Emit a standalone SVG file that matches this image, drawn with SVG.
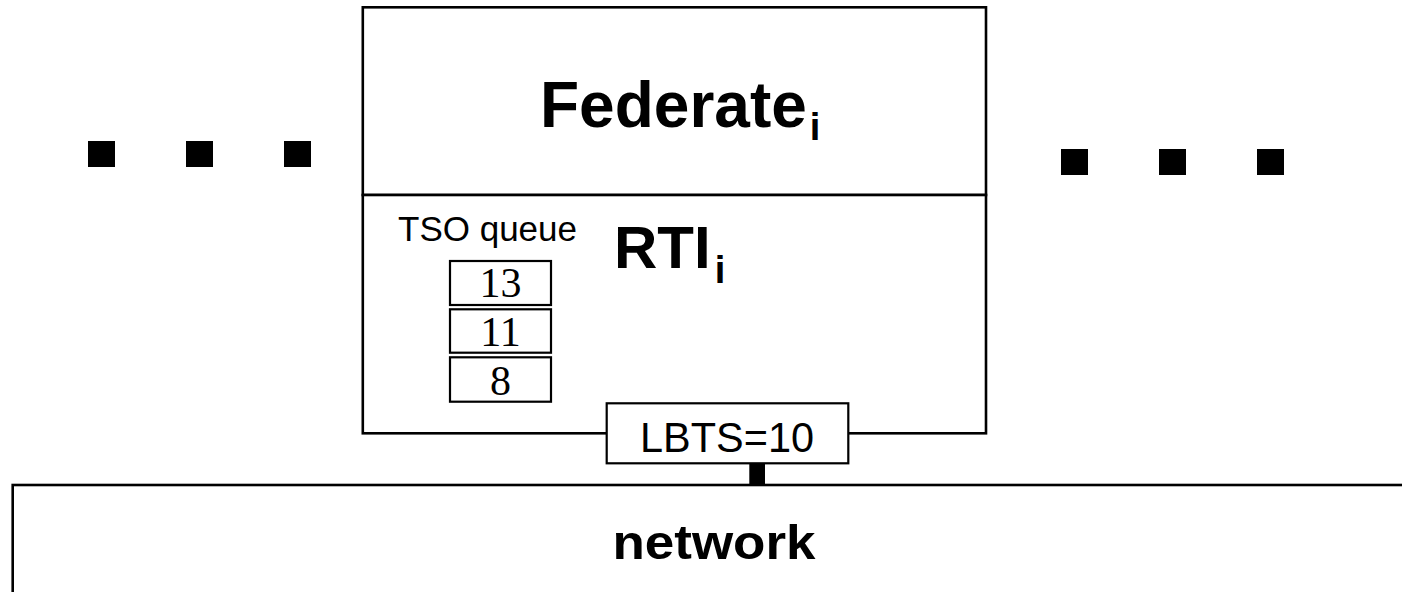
<svg xmlns="http://www.w3.org/2000/svg" width="1402" height="592" viewBox="0 0 1402 592">
  <style>
    .frame { fill: #fff; stroke: #000; stroke-width: 2.6; }
    .cell { fill: #fff; stroke: #000; stroke-width: 2.2; }
    .dot { fill: #000; }
    .sans { font-family: "Liberation Sans", Arial, sans-serif; fill: #000; }
    .bold { font-weight: bold; }
    .serif { font-family: "Liberation Serif", "Times New Roman", serif; fill: #000; font-size: 42px; text-anchor: middle; }
  </style>

  <rect width="1402" height="592" fill="#fff"/>

  <!-- ellipsis dots on either side of the federate -->
  <g id="dots-left">
    <rect class="dot" x="88" y="141" width="27" height="26"/>
    <rect class="dot" x="186" y="141" width="27" height="26"/>
    <rect class="dot" x="284" y="141" width="27" height="26"/>
  </g>
  <g id="dots-right">
    <rect class="dot" x="1061" y="149" width="27" height="26"/>
    <rect class="dot" x="1159" y="149" width="27" height="26"/>
    <rect class="dot" x="1257" y="149" width="27" height="26"/>
  </g>

  <!-- network bus -->
  <g id="network">
    <rect class="frame" x="12.7" y="485" width="1400" height="200"/>
    <text class="sans bold" x="714" y="559" font-size="48" text-anchor="middle" textLength="203" lengthAdjust="spacingAndGlyphs">network</text>
  </g>

  <!-- federate with its RTI component -->
  <g id="federate">
    <rect class="frame" x="362.8" y="7.3" width="623.2" height="187.7"/>
    <text class="sans bold" x="540" y="127" font-size="64">Federate<tspan font-size="38" dx="3" dy="13">i</tspan></text>
  </g>

  <g id="rti">
    <rect class="frame" x="362.8" y="195" width="623.2" height="238.3"/>
    <text class="sans bold" x="614" y="268" font-size="60">RTI<tspan font-size="38" dx="4" dy="15">i</tspan></text>
    <text class="sans" x="398" y="240.5" font-size="35">TSO queue</text>
  </g>

  <!-- time-stamp-ordered queue entries -->
  <g id="tso-queue">
    <rect class="cell" x="450" y="261" width="101" height="44"/>
    <text class="serif" x="500.5" y="297">13</text>
    <rect class="cell" x="450" y="309.3" width="101" height="43.4"/>
    <text class="serif" x="500.5" y="345.5">11</text>
    <rect class="cell" x="450" y="357.3" width="101" height="44.4"/>
    <text class="serif" x="500.5" y="394.5">8</text>
  </g>

  <!-- link from the RTI to the network -->
  <g id="connectors">
    <rect x="749.3" y="462" width="15.7" height="23" fill="#000"/>
  </g>

  <g id="lbts">
    <rect class="cell" x="606.7" y="403.3" width="241.6" height="60"/>
    <text class="sans" x="727" y="451.5" font-size="43" text-anchor="middle" textLength="174" lengthAdjust="spacingAndGlyphs">LBTS=10</text>
  </g>
</svg>
